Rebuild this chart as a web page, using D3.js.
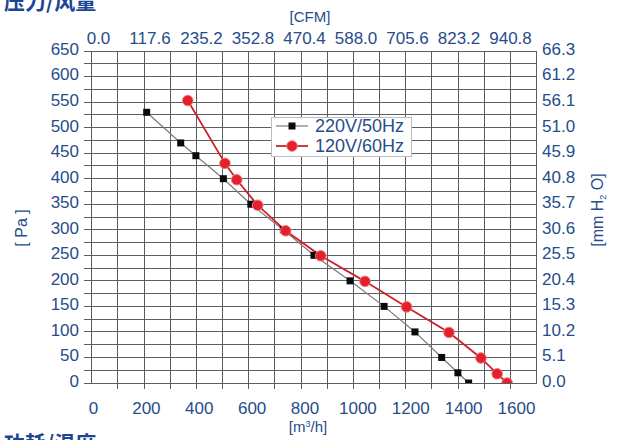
<!DOCTYPE html>
<html>
<head>
<meta charset="utf-8">
<script src="https://cdn.jsdelivr.net/npm/d3@7/dist/d3.min.js"></script>
<style>
  html, body { margin: 0; padding: 0; background: #fff; }
  svg { display: block; font-family: "Liberation Sans", Arial, sans-serif; }
</style>
</head>
<body>
<svg id="chart" width="617" height="440"></svg>
<script>
// ---- data ----
const flowTicks = [0, 200, 400, 600, 800, 1000, 1200, 1400, 1600];          // m3/h labels
const cfmTicks = ["0.0","117.6","235.2","352.8","470.4","588.0","705.6","823.2","940.8"];
const paTicks = [0, 50, 100, 150, 200, 250, 300, 350, 400, 450, 500, 550, 600, 650];
const mmTicks = ["0.0","5.1","10.2","15.3","20.4","25.5","30.6","35.7","40.8","45.9","51.0","56.1","61.2","66.3"];

const s220Flow = [210, 340, 398, 503, 608, 732, 849, 987, 1117, 1235, 1337, 1399, 1440];
const s220Pa   = [530, 470, 445, 400, 350, 300, 250, 200, 150, 100, 50, 20, 0];
const s120Flow = [367, 509, 554, 634, 741, 875, 1044, 1203, 1365, 1487, 1549, 1587];
const s120Pa   = [553, 430, 398, 348, 298, 249, 199, 149, 99, 49, 18, 0];

const seriesNames = ["220V/50Hz", "120V/60Hz"];

// ---- layout ----
const svg = d3.select("#chart");
const L = 91.7, R = 536.7, T = 51, B = 383;
const blue = "#274c8a";
const gridColor = "#5a5e62";

const x = d3.scaleLinear().domain([0, 1700]).range([L, R]);
const y = d3.scaleLinear().domain([0, 650]).range([B, T]);
// label scales (labels in the original drift slightly relative to the grid)
const xLabBottom = d3.scaleLinear().domain([0, 1600]).range([93, 516]);
const xLabTop = d3.scaleLinear().domain([0, 8]).range([98, 510]);

// plot background
svg.append("rect").attr("x", L).attr("y", T).attr("width", R - L).attr("height", B - T).attr("fill", "#fff");

// grid
const gridX = d3.range(0, 1701, 100);
const gridY = d3.range(0, 651, 25);
const grid = svg.append("g").attr("stroke", gridColor).attr("stroke-width", 1).attr("shape-rendering", "crispEdges");
grid.selectAll("line.v").data(gridX).join("line").attr("class", "v")
  .attr("x1", d => x(d)).attr("x2", d => x(d))
  .attr("y1", T).attr("y2", d => (d === 0 || d === 1700) ? B : B + 6);
grid.selectAll("line.h").data(gridY).join("line").attr("class", "h")
  .attr("x1", L - 8).attr("x2", R)
  .attr("y1", d => y(d)).attr("y2", d => y(d));
grid.append("rect").attr("x", L).attr("y", T).attr("width", R - L).attr("height", B - T).attr("fill", "none");

// axes labels
const axStyle = g => {
  g.select(".domain").remove();
  g.selectAll("line").remove();
  g.selectAll("text").attr("fill", blue).style("font-size", "17px").style("font-family", "'Liberation Sans', Arial, sans-serif");
};
svg.append("g").attr("transform", `translate(0,${402})`)
  .call(d3.axisBottom(xLabBottom).tickValues(flowTicks).tickSize(0).tickPadding(0).tickFormat(d3.format("d")))
  .call(axStyle);
svg.append("g").attr("transform", `translate(0,${44})`)
  .call(d3.axisTop(xLabTop).tickValues(d3.range(cfmTicks.length)).tickSize(0).tickPadding(0).tickFormat(i => cfmTicks[i]))
  .call(axStyle);
svg.append("g").attr("transform", `translate(${79},-2)`)
  .call(d3.axisLeft(y).tickValues(paTicks).tickSize(0).tickPadding(0).tickFormat(d3.format("d")))
  .call(axStyle);
svg.append("g").attr("transform", `translate(${542},-2)`)
  .call(d3.axisRight(y).tickValues(paTicks).tickSize(0).tickPadding(0).tickFormat((d, i) => mmTicks[i]))
  .call(axStyle);

// axis titles
svg.append("text").attr("x", 310).attr("y", 22).attr("text-anchor", "middle")
  .attr("fill", blue).style("font-size", "15px").text("[CFM]");
const mh = svg.append("text").attr("x", 308).attr("y", 432).attr("text-anchor", "middle")
  .attr("fill", blue).style("font-size", "15px");
mh.append("tspan").text("[m");
mh.append("tspan").attr("dy", -5).style("font-size", "9px").text("3");
mh.append("tspan").attr("dy", 5).text("/h]");
svg.append("text").attr("transform", "translate(27,228) rotate(-90)").attr("text-anchor", "middle")
  .attr("fill", blue).style("font-size", "16px").text("[ Pa ]");
const mm = svg.append("text").attr("transform", "translate(603,210) rotate(-90)").attr("text-anchor", "middle")
  .attr("fill", blue).style("font-size", "16px");
mm.append("tspan").text("[mm H");
mm.append("tspan").attr("dy", 3).style("font-size", "9px").text("2");
mm.append("tspan").attr("dy", -3).text(" O]");

// titles (cropped in the original)
svg.append("text").attr("x", 4).attr("y", 9).attr("fill", "#1c4596")
  .style("font-family", "'Noto Sans CJK SC', sans-serif").style("font-weight", "bold").style("font-size", "21px").text("压力/风量");
svg.append("text").attr("x", 4).attr("y", 451).attr("fill", "#1c4596")
  .style("font-family", "'Noto Sans CJK SC', sans-serif").style("font-weight", "bold").style("font-size", "21px").text("功耗/温度");

// series
const d220 = s220Flow.map((f, i) => [f, s220Pa[i]]);
const d120 = s120Flow.map((f, i) => [f, s120Pa[i]]);
const line = d3.line().x(d => x(d[0])).y(d => y(d[1]));

svg.append("clipPath").attr("id", "plotclip").append("rect")
  .attr("x", L - 10).attr("y", T).attr("width", R - L + 20).attr("height", B - T);

const plot = svg.append("g");
plot.append("path").datum(d220).attr("d", line).attr("fill", "none").attr("stroke", "#7a7a7a").attr("stroke-width", 1.2);
plot.append("path").datum(d120).attr("d", line).attr("fill", "none").attr("stroke", "#d0202a").attr("stroke-width", 1.8);

const sq = 7;
plot.append("g").attr("clip-path", "url(#plotclip)").selectAll("rect").data(d220).join("rect")
  .attr("x", d => x(d[0]) - sq / 2).attr("y", d => y(d[1]) - sq / 2)
  .attr("width", sq).attr("height", sq).attr("fill", "#0a0a0a");
plot.append("g").attr("clip-path", "url(#plotclip)").selectAll("circle").data(d120).join("circle")
  .attr("cx", d => x(d[0])).attr("cy", d => y(d[1])).attr("r", 5.3)
  .attr("fill", "#e3202b").attr("stroke", "#f07a7a").attr("stroke-width", 1);

// legend
const lg = svg.append("g");
lg.append("rect").attr("x", 271.5).attr("y", 117.5).attr("width", 140).attr("height", 39)
  .attr("fill", "#fff").attr("stroke", "#b9bcc0");
const ly = [126, 146];
lg.append("line").attr("x1", 276).attr("x2", 308).attr("y1", ly[0]).attr("y2", ly[0]).attr("stroke", "#7a7a7a").attr("stroke-width", 1.2);
lg.append("rect").attr("x", 292 - sq / 2).attr("y", ly[0] - sq / 2).attr("width", sq).attr("height", sq).attr("fill", "#0a0a0a");
lg.append("line").attr("x1", 276).attr("x2", 308).attr("y1", ly[1]).attr("y2", ly[1]).attr("stroke", "#d0202a").attr("stroke-width", 1.8);
lg.append("circle").attr("cx", 292).attr("cy", ly[1]).attr("r", 5.3).attr("fill", "#e3202b").attr("stroke", "#f07a7a");
lg.selectAll("text").data(seriesNames).join("text")
  .attr("x", 315).attr("y", (d, i) => ly[i]).attr("dy", "0.36em")
  .attr("fill", blue).style("font-size", "18px").text(d => d);
</script>
</body>
</html>
